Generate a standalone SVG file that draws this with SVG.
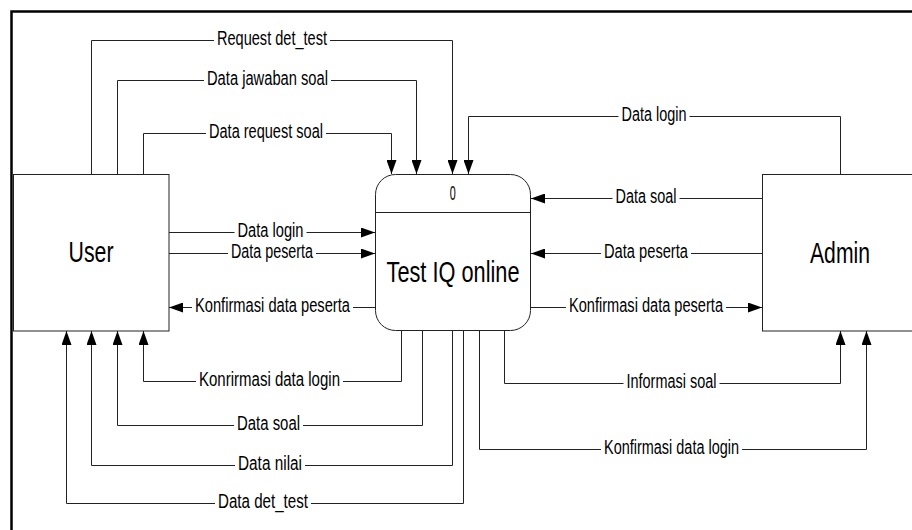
<svg xmlns="http://www.w3.org/2000/svg" width="912" height="530" viewBox="0 0 912 530">
<style>
.box{fill:#fff;stroke:#222;stroke-width:1}
.ln{fill:none;stroke:#222;stroke-width:1}
.bg{fill:#fff}
.lb{font-family:"Liberation Sans",Arial,sans-serif;font-size:19.5px;fill:#000;text-anchor:start}
.big{font-family:"Liberation Sans",Arial,sans-serif;font-size:30px;fill:#000}
</style>
<defs>
<marker id="ah" markerUnits="userSpaceOnUse" markerWidth="14" markerHeight="10" refX="14" refY="5" orient="auto">
<path d="M0,0 L14,5 L0,10 Z" fill="#000"/>
</marker>
</defs>
<rect x="0" y="0" width="912" height="530" fill="#fff"/>
<rect x="11.5" y="11.5" width="1000" height="1000" fill="none" stroke="#000" stroke-width="2.5"/>

<g id="user">
<rect class="box" x="13.5" y="174.5" width="155.5" height="156.5"/>
<text class="big" x="68.5" y="262" textLength="45" lengthAdjust="spacingAndGlyphs">User</text>
</g>
<g id="process">
<rect class="box" x="375.5" y="174.5" width="155" height="156" rx="20" ry="20"/>
<line class="ln" x1="375.5" y1="212.5" x2="530.5" y2="212.5"/>
<text class="lb" x="449.8" y="199.5" textLength="6" lengthAdjust="spacingAndGlyphs">0</text>
<text class="big" x="386.5" y="282" textLength="133" lengthAdjust="spacingAndGlyphs">Test IQ online</text>
</g>
<g id="admin">
<rect class="box" x="762.5" y="174.5" width="160" height="156.5"/>
<text class="big" x="810" y="263" textLength="60" lengthAdjust="spacingAndGlyphs">Admin</text>
</g>

<g id="connectors">
<path class="ln" d="M91.5 174 V40.5 H452.5 V174" marker-end="url(#ah)"/>
<path class="ln" d="M117.5 174 V80.5 H416.5 V174" marker-end="url(#ah)"/>
<path class="ln" d="M143.5 174 V133.5 H391.5 V174" marker-end="url(#ah)"/>
<path class="ln" d="M840.5 174 V116.5 H468.5 V174" marker-end="url(#ah)"/>
<path class="ln" d="M169 232.5 H375" marker-end="url(#ah)"/>
<path class="ln" d="M169 253.5 H375" marker-end="url(#ah)"/>
<path class="ln" d="M375 307.5 H169" marker-end="url(#ah)"/>
<path class="ln" d="M762 198.5 H531" marker-end="url(#ah)"/>
<path class="ln" d="M762 253.5 H531" marker-end="url(#ah)"/>
<path class="ln" d="M531 307.5 H762" marker-end="url(#ah)"/>
<path class="ln" d="M401.5 331 V381.5 H143.5 V331" marker-end="url(#ah)"/>
<path class="ln" d="M422.5 331 V425.5 H117.5 V331" marker-end="url(#ah)"/>
<path class="ln" d="M452.5 331 V465.5 H91.5 V331" marker-end="url(#ah)"/>
<path class="ln" d="M463.5 331 V503.5 H66.5 V331" marker-end="url(#ah)"/>
<path class="ln" d="M504.5 331 V383.5 H840.5 V331" marker-end="url(#ah)"/>
<path class="ln" d="M479.5 331 V449.5 H866.5 V331" marker-end="url(#ah)"/>

<rect class="bg" x="214" y="30" width="116" height="20"/>
<text class="lb" x="217" y="45" textLength="110" lengthAdjust="spacingAndGlyphs">Request det_test</text>
<rect class="bg" x="204" y="70" width="127" height="20"/>
<text class="lb" x="207" y="85" textLength="121" lengthAdjust="spacingAndGlyphs">Data jawaban soal</text>
<rect class="bg" x="206" y="123" width="120" height="20"/>
<text class="lb" x="209" y="138" textLength="114" lengthAdjust="spacingAndGlyphs">Data request soal</text>
<rect class="bg" x="618.5" y="106" width="71" height="20"/>
<text class="lb" x="621.5" y="121" textLength="65" lengthAdjust="spacingAndGlyphs">Data login</text>

<rect class="bg" x="234.5" y="222" width="72" height="20"/>
<text class="lb" x="237.5" y="237" textLength="66" lengthAdjust="spacingAndGlyphs">Data login</text>
<rect class="bg" x="228" y="243" width="88" height="20"/>
<text class="lb" x="231" y="258" textLength="82" lengthAdjust="spacingAndGlyphs">Data peserta</text>
<rect class="bg" x="192" y="297" width="161" height="20"/>
<text class="lb" x="195" y="312" textLength="155" lengthAdjust="spacingAndGlyphs">Konfirmasi data peserta</text>

<rect class="bg" x="612.5" y="188" width="67" height="20"/>
<text class="lb" x="615.5" y="203" textLength="61" lengthAdjust="spacingAndGlyphs">Data soal</text>
<rect class="bg" x="601" y="243" width="90" height="20"/>
<text class="lb" x="604" y="258" textLength="84" lengthAdjust="spacingAndGlyphs">Data peserta</text>
<rect class="bg" x="566" y="297" width="160" height="20"/>
<text class="lb" x="569" y="312" textLength="154" lengthAdjust="spacingAndGlyphs">Konfirmasi data peserta</text>

<rect class="bg" x="196" y="371" width="147" height="20"/>
<text class="lb" x="199" y="386" textLength="141" lengthAdjust="spacingAndGlyphs">Konrirmasi data login</text>
<rect class="bg" x="234" y="415" width="69" height="20"/>
<text class="lb" x="237" y="430" textLength="63" lengthAdjust="spacingAndGlyphs">Data soal</text>
<rect class="bg" x="235" y="455" width="70" height="20"/>
<text class="lb" x="238" y="470" textLength="64" lengthAdjust="spacingAndGlyphs">Data nilai</text>
<rect class="bg" x="215" y="493" width="96" height="20"/>
<text class="lb" x="218" y="508" textLength="90" lengthAdjust="spacingAndGlyphs">Data det_test</text>

<rect class="bg" x="623.5" y="373" width="96" height="20"/>
<text class="lb" x="626.5" y="388" textLength="90" lengthAdjust="spacingAndGlyphs">Informasi soal</text>
<rect class="bg" x="601" y="439" width="141" height="20"/>
<text class="lb" x="604" y="454" textLength="135" lengthAdjust="spacingAndGlyphs">Konfirmasi data login</text>
</g>
</svg>
